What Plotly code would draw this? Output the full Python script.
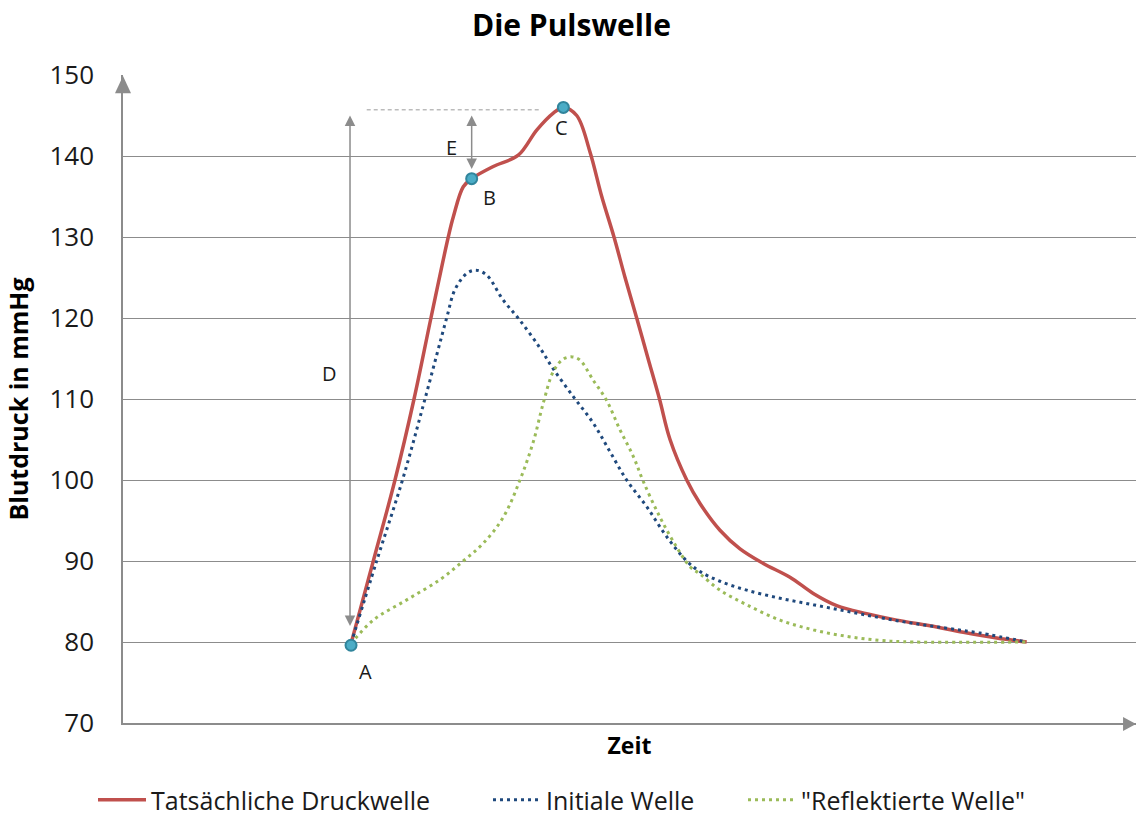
import plotly.graph_objects as go

# Zeitachse in ms, Blutdruck in mmHg
t_druck = [225.1, 247.1, 268.5, 287.3, 304.0, 321.1, 326.1, 335.9, 344.2, 365.5, 390.2,
           408.4, 424.8, 434.7, 447.9, 461.0, 472.6, 484.7, 495.6, 507.1, 518.3,
           529.6, 540.0, 556.5, 569.6, 589.3, 609.1, 632.1, 658.4, 681.4, 704.5, 734.1,
           763.8, 796.6, 829.5, 862.5, 892.1]
p_druck = [79.8, 90.0, 100.0, 110.0, 120.0, 130.0, 132.5, 136.2, 137.2, 138.7, 140.1,
           143.2, 145.3, 146.0, 145.0, 140.5, 135.0, 130.0, 125.0, 120.0, 115.0,
           110.0, 105.0, 100.0, 97.1, 93.8, 91.5, 89.7, 88.0, 86.0, 84.5, 83.5,
           82.7, 82.0, 81.2, 80.5, 80.0]

t_initial = [225.1, 250.4, 275.9, 298.1, 319.5, 327.7, 339.3, 348.5, 359.0, 375.4, 391.9,
             411.6, 424.8, 444.5, 464.3, 480.7, 497.2, 517.0, 536.7, 556.5, 569.6, 589.3,
             615.7, 648.6, 681.4, 714.4, 747.3, 780.2, 813.1, 846.0, 892.1]
p_initial = [79.8, 90.0, 100.0, 110.0, 120.0, 123.5, 125.5, 125.9, 125.3, 122.2, 119.7,
             116.3, 113.7, 110.3, 107.0, 103.5, 100.0, 96.7, 93.0, 90.0, 88.7, 87.5,
             86.4, 85.4, 84.6, 83.8, 83.0, 82.3, 81.7, 81.1, 80.0]

t_reflekt = [225.1, 247.1, 280.1, 312.9, 335.9, 355.7, 375.4, 391.9, 405.0, 414.9, 424.8,
             434.3, 443.2, 451.1, 464.3, 477.5, 490.6, 503.8, 513.7, 530.1, 546.6, 559.7,
             569.6, 589.3, 615.7, 648.6, 681.4, 714.4, 747.3, 780.2, 892.1]
p_reflekt = [79.8, 82.7, 85.2, 87.7, 90.0, 92.2, 95.4, 100.0, 104.7, 109.5, 113.4,
             114.9, 115.2, 114.8, 112.3, 109.8, 106.2, 102.9, 99.8, 95.4, 91.7, 89.3,
             88.4, 86.4, 84.6, 82.7, 81.5, 80.7, 80.2, 80.0, 80.0]

# Markierte Punkte A, B, C
punkt_namen = ["A", "B", "C"]
punkt_t = [225.1, 344.2, 434.7]
punkt_p = [79.6, 137.2, 146.0]

y_ticks = [70, 80, 90, 100, 110, 120, 130, 140, 150]

FONT = "Open Sans"
GRAU = "#8c8c8c"
GLATT = 1.0

fig = go.Figure()

fig.add_trace(go.Scatter(
    x=t_druck, y=p_druck, mode="lines", name="Tatsächliche Druckwelle", legend="legend",
    line=dict(color="#C0504D", width=3.5, shape="spline", smoothing=GLATT)))
fig.add_trace(go.Scatter(
    x=t_initial, y=p_initial, mode="lines", name="Initiale Welle", legend="legend2",
    line=dict(color="#1F497D", width=3, dash="3px,4px", shape="spline", smoothing=GLATT)))
fig.add_trace(go.Scatter(
    x=t_reflekt, y=p_reflekt, mode="lines", name="\"Reflektierte Welle\"", legend="legend3",
    line=dict(color="#9BBB59", width=3, dash="3px,4px", shape="spline", smoothing=GLATT)))

# Hilfslinien: Pulsdruck (D) und Augmentationsdruck (E)
t_A, t_B, t_C = punkt_t
p_A, p_B, p_C = punkt_p
fig.add_trace(go.Scatter(
    x=[t_A + 15.5, t_C - 23], y=[p_C - 0.3, p_C - 0.3], mode="lines", showlegend=False,
    line=dict(color="#9a9a9a", width=1, dash="4px,3px"), hoverinfo="skip"))

fig.add_trace(go.Scatter(
    x=punkt_t, y=punkt_p, mode="markers", showlegend=False,
    marker=dict(size=11, color="#4BACC6", line=dict(color="#31859C", width=2))))

pfeile = [
    dict(x=t_A - 1.0, y=p_C - 1.0, ax=t_A - 1.0, ay=p_A + 2.2),
    dict(x=t_B, y=p_C - 1.0, ax=t_B, ay=p_B + 1.0),
]
for p in pfeile:
    fig.add_annotation(
        x=p["x"], y=p["y"], ax=p["ax"], ay=p["ay"], xref="x", yref="y",
        axref="x", ayref="y", text="", showarrow=True, arrowhead=2, startarrowhead=2,
        arrowside="end+start", arrowsize=1.4, startarrowsize=1.4, arrowwidth=1.5,
        arrowcolor=GRAU)

beschriftungen = [
    ("A", t_A + 14.5, p_A - 3.3),
    ("B", t_B + 18, p_B - 2.3),
    ("C", t_C - 2, p_C - 2.5),
    ("D", t_A - 21, 113.1),
    ("E", t_B - 19.5, 141.0),
]
for txt, x, y in beschriftungen:
    fig.add_annotation(x=x, y=y, text=txt, showarrow=False,
                       font=dict(family=FONT, size=20, color="#1a1a1a"))

# Pfeilspitzen der Achsen
fig.add_shape(type="path", xref="paper", yref="paper",
              path="M -0.0079,0.972 L 0,0.9985 L 0.0079,0.972 Z",
              fillcolor=GRAU, line=dict(width=0))
fig.add_shape(type="path", xref="paper", yref="paper",
              path="M 0.9872,-0.0123 L 1.0,-0.0015 L 0.9872,0.0093 Z",
              fillcolor=GRAU, line=dict(width=0))


def legende(x_px):
    return dict(orientation="h", xref="container", x=x_px / 1136, xanchor="left",
                yref="container", y=0.022, yanchor="middle", bgcolor="rgba(0,0,0,0)",
                font=dict(family=FONT, size=25, color="#1a1a1a"), itemwidth=48)


fig.update_layout(
    width=1136, height=818,
    margin=dict(l=123, r=0, t=75, b=95),
    paper_bgcolor="white", plot_bgcolor="white",
    title=dict(text="<b>Die Pulswelle</b>", x=0.503, xref="container", xanchor="center",
               y=0.969, yanchor="middle", font=dict(family=FONT, size=30, color="#000")),
    font=dict(family=FONT, color="#000"),
    showlegend=True,
    legend=legende(93),
    legend2=legende(488),
    legend3=legende(743),
)

fig.update_xaxes(
    range=[0, 1000], showgrid=False, zeroline=False, showticklabels=False,
    showline=True, linecolor=GRAU, linewidth=1.5,
    title=dict(text="<b>Zeit</b>", font=dict(family=FONT, size=23), standoff=14),
)
fig.update_yaxes(
    range=[70, 150], tickvals=y_ticks, showgrid=True, gridcolor=GRAU, gridwidth=1,
    zeroline=False, showline=True, linecolor=GRAU, linewidth=1.5,
    ticks="", ticklabelstandoff=22, tickfont=dict(family=FONT, size=26, color="#1a1a1a"),
    title=dict(text="<b>Blutdruck in mmHg</b>", font=dict(family=FONT, size=25), standoff=14),
)

fig.write_html("out.html")
